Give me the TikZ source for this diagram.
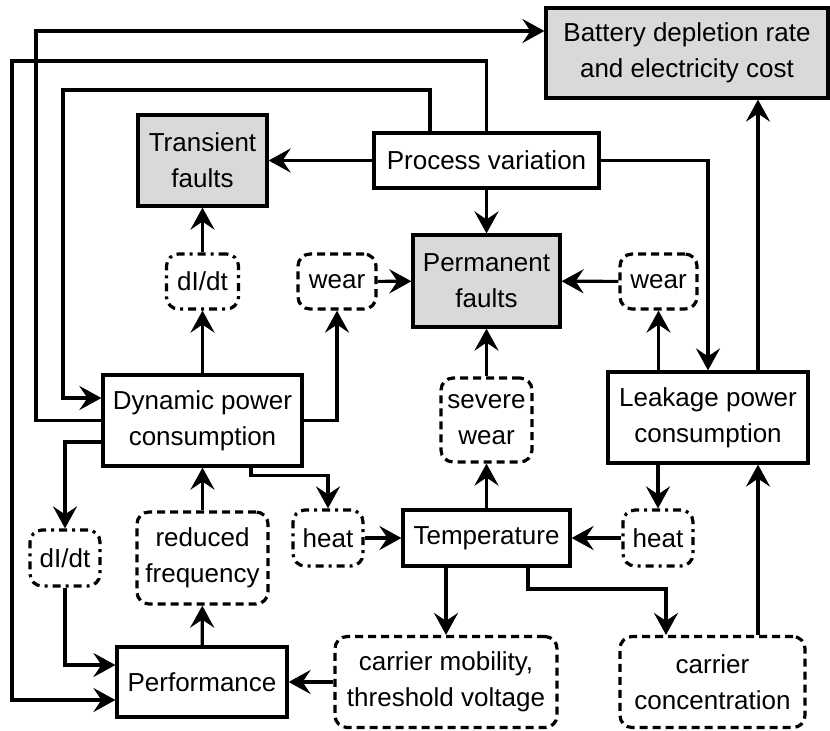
\documentclass[tikz,border=0pt]{standalone}
\usepackage{fontspec}
\setmainfont{Liberation Sans}
\usepackage{tikz}
\usetikzlibrary{arrows.meta, calc, positioning}
\definecolor{faultgray}{HTML}{D9D9D9}

\begin{document}
\begin{tikzpicture}[x=0.5pt, y=-0.5pt, line width=1.6pt,
    every node/.style={font=\fontsize{13}{18}\selectfont, align=center, inner sep=0pt},
    wh/.style 2 args={minimum width=#1, minimum height=#2},
    block/.style={draw},
    fault/.style={draw, fill=faultgray},
    effect/.style={draw, dash pattern=on 4pt off 2.5pt, rounded corners=6pt},
    spike/.style={draw, dash pattern=on 4pt off 2.5pt on 1.5pt off 2.5pt, rounded corners=6pt},
    arr/.style={-{Stealth[length=11pt, width=12pt, inset=4pt]}}]
    \useasboundingbox (0,0) rectangle (830,730);

    \node[fault, wh={141pt}{45pt}] (bat) at (687,53) {Battery depletion rate\\and electricity cost};
    \node[fault, wh={64.5pt}{45.5pt}] (tf) at (202.5,160.5) {Transient\\faults};
    \node[block, wh={112.5pt}{27.5pt}] (pv) at (486.5,160.5) {Process variation};
    \node[fault, wh={73.5pt}{46pt}] (pf) at (486.5,281) {Permanent\\faults};
    \node[effect, wh={39pt}{27.5pt}] (wearl) at (337,281.5) {wear};
    \node[spike, wh={36pt}{27.5pt}] (didta) at (202.5,281.5) {dI/dt};
    \node[effect, wh={38.5pt}{27.5pt}] (wearr) at (658.5,281.5) {wear};
    \node[block, wh={99.5pt}{45.5pt}] (dyn) at (202.5,420.5) {Dynamic power\\consumption};
    \node[effect, wh={45.5pt}{42pt}] (sev) at (486.5,420) {severe\\wear};
    \node[block, wh={100pt}{45.5pt}] (leak) at (708,417.5) {Leakage power\\consumption};
    \node[spike, wh={35pt}{28pt}] (didtb) at (65,558) {dI/dt};
    \node[effect, wh={65.5pt}{46pt}] (redf) at (202.5,558) {reduced\\frequency};
    \node[spike, wh={35pt}{28pt}] (heatl) at (328,538) {heat};
    \node[block, wh={83.5pt}{28pt}] (temp) at (486.5,538) {Temperature};
    \node[spike, wh={35pt}{28pt}] (heatr) at (658,538) {heat};
    \node[block, wh={85pt}{35pt}] (perf) at (202,682) {Performance};
    \node[effect, wh={111pt}{45.5pt}] (cmob) at (446,682) {carrier mobility,\\threshold voltage};
    \node[effect, wh={92.5pt}{45.5pt}] (ccon) at (712.5,682) {carrier\\concentration};
    \coordinate (xr) at (758,0);

    \draw[arr] (pv) -- (tf);
    \draw[arr] (pv) -- (pf);
    \draw[arr] (pv.east) -| (leak.north);
    \draw[arr] ($(pv.north)+(-56.5,0)$) |- (63,90) |- ($(dyn.west)+(0,-22.5)$);
    \draw[arr] (pv.north) |- (12,61) |- ($(perf.west)+(0,18)$);
    \draw[arr] (dyn.west) -| (36,31) -- ($(bat.west)+(0,-22)$);
    \draw[arr] (didta) -- (tf);
    \draw[arr] (dyn) -- (didta);
    \draw[arr] (dyn.east) -| (wearl.south);
    \draw[arr] (wearl) -- (pf);
    \draw[arr] (wearr) -- (pf);
    \draw[arr] (wearr |- leak.north) -- (wearr);
    \draw[arr] (xr |- leak.north) -- (xr |- bat.south);
    \draw[arr] (sev) -- (pf);
    \draw[arr] (temp) -- (sev);
    \draw[arr] ($(dyn.west)+(0,21.5)$) -| (didtb);
    \draw[arr] (didtb) |- ($(perf.west)+(0,-17)$);
    \draw[arr] (perf) -- (redf);
    \draw[arr] (redf) -- (dyn);
    \draw[arr] ($(dyn.south)+(48.5,0)$) |- ($(heatl.north)+(0,-33)$) -- (heatl.north);
    \draw[arr] (heatl) -- (temp);
    \draw[arr] (heatr |- leak.south) -- (heatr);
    \draw[arr] (heatr) -- (temp);
    \draw[arr] (cmob |- temp.south) -- (cmob);
    \draw[arr] ($(temp.south)+(41.5,0)$) |- ($(ccon.north)+(-46.5,-46)$) -- ($(ccon.north)+(-46.5,0)$);
    \draw[arr] (cmob) -- (perf);
    \draw[arr] (xr |- ccon.north) -- (xr |- leak.south);
\end{tikzpicture}
\end{document}
